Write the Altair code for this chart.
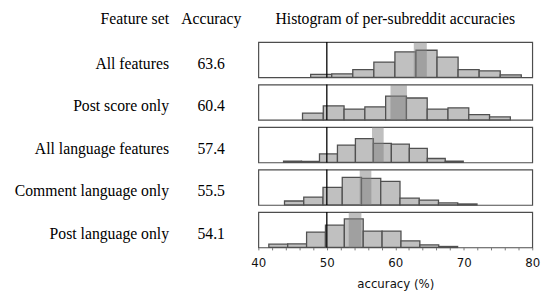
import altair as alt
import pandas as pd
import numpy as np

features = ["All features", "Post score only", "All language features",
            "Comment language only", "Post language only"]
accuracy = [63.6, 60.4, 57.4, 55.5, 54.1]
ci_lo = [62.7, 59.3, 56.6, 54.8, 53.2]
ci_hi = [64.6, 61.7, 58.3, 56.5, 55.05]
bin_lo = [47.64, 46.45, 43.68, 43.82, 41.53]
bin_hi = [78.40, 76.80, 69.92, 71.93, 69.10]
heights = [
    [9, 11, 24, 47, 78, 83, 62, 24, 20, 8],
    [21, 43, 33, 40, 73, 67, 33, 37, 16, 9],
    [4, 3, 26, 53, 73, 58, 56, 43, 12, 4],
    [12, 24, 54, 84, 81, 72, 21, 15, 6, 3],
    [10, 11, 47, 68, 87, 50, 50, 20, 8, 3],
]
chance = 50
tick_values = list(range(40, 81, 2))

SERIF = "Liberation Serif"
SANS = "DejaVu Sans"
W, H = 279, 36

xscale = alt.Scale(domain=[40, 80], nice=False, zero=False)


def xenc(field, axis):
    return alt.X(field, type="quantitative", scale=xscale, axis=axis,
                 title="accuracy (%)")


panels = []
n = len(features)
for i, f in enumerate(features):
    edges = np.linspace(bin_lo[i], bin_hi[i], len(heights[i]) + 1)
    hist = pd.DataFrame({"start": edges[:-1], "end": edges[1:], "freq": heights[i]})
    info = pd.DataFrame({"feature": [f], "acc": [accuracy[i]], "lo": [ci_lo[i]],
                         "hi": [ci_hi[i]], "chance": [chance]})
    if i == n - 1:
        axis = alt.Axis(values=tick_values,
                        labelExpr="datum.value % 10 == 0 ? datum.label : ''",
                        labelOverlap=False, labelFlush=False, domain=False, grid=False,
                        tickSize=2.5, tickColor="#777777", tickWidth=1,
                        labelFont=SANS, labelFontSize=12, labelColor="#111111",
                        labelPadding=8, titleFont=SANS, titleFontSize=12,
                        titleFontWeight="normal", titleColor="#111111", titlePadding=10)
    else:
        axis = None

    bars = alt.Chart(hist).mark_rect(fill="#c0c0c0", stroke="#505050", strokeWidth=1.3).encode(
        x=xenc("start", axis),
        x2="end:Q",
        y=alt.Y("freq:Q", scale=alt.Scale(domain=[0, 108], nice=False, zero=True), axis=None),
        y2=alt.datum(0),
    )
    band = alt.Chart(info).mark_rect(color="#808080", opacity=0.5).encode(
        x=xenc("lo", axis), x2="hi:Q")
    rule = alt.Chart(info).mark_rule(color="black", strokeWidth=1.3).encode(
        x=xenc("chance", axis))
    label = alt.Chart(info).mark_text(align="right", baseline="alphabetic", font=SERIF,
                                      fontSize=16, color="black").encode(
        x=alt.value(-91), y=alt.value(27), text="feature:N")
    acc = alt.Chart(info).mark_text(align="center", baseline="alphabetic", font=SERIF,
                                    fontSize=16, color="black").encode(
        x=alt.value(-48), y=alt.value(27), text=alt.Text("acc:Q", format=".1f"))
    layers = [bars, band, rule, label, acc]
    if i == 0:
        hdr = pd.DataFrame({"h1": ["Feature set"], "h2": ["Accuracy"],
                            "h3": ["Histogram of per-subreddit accuracies"]})
        for field, xv, al in [("h1", -91, "right"), ("h2", -48, "center"), ("h3", W / 2, "center")]:
            layers.append(alt.Chart(hdr).mark_text(align=al, baseline="alphabetic", font=SERIF,
                                                   fontSize=16, color="black").encode(
                x=alt.value(xv), y=alt.value(-18.3), text=f"{field}:N"))
    panels.append(alt.layer(*layers).properties(width=W, height=H))

chart = alt.vconcat(*panels, spacing=7.3, bounds="flush").properties(
    padding={"left": 6, "top": 0, "right": 5, "bottom": 5}
).configure_view(stroke="#4d4d4d", strokeWidth=1.2)

chart.save("out.html", embed_options={"renderer": "svg", "actions": False})
